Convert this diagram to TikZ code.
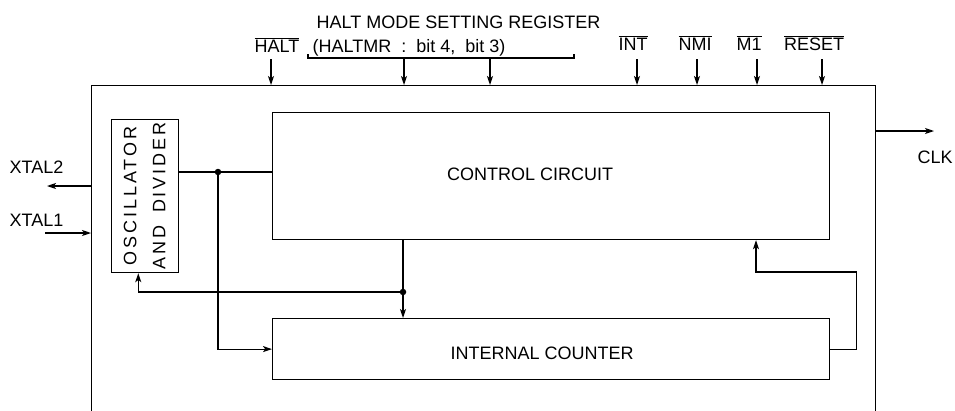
\documentclass[tikz,border=0pt]{standalone}
\usepackage{fontspec}
\usepackage{graphicx}
\setmainfont{Liberation Sans}
\usetikzlibrary{arrows.meta,calc}
\newcommand\ovl[1]{\ensuremath{\overline{\mbox{#1}}}}
\begin{document}
\begin{tikzpicture}[x=1pt,y=-1pt,line width=1.2pt,
  every node/.style={font=\fontsize{18}{22}\selectfont},
  blk/.style={draw,rectangle,inner sep=0pt,anchor=north west},
  arr/.style={-{Stealth[length=9pt,width=6pt,inset=2.2pt]}},
  lbl/.style={inner sep=0pt,anchor=base},
  jdot/.style={circle,fill,inner sep=0pt,minimum size=6.5pt}]
\useasboundingbox (0,0) rectangle (955,410);
\begin{scope}
  \clip (0,0) rectangle (955,410);
  \node[blk,minimum width=784pt,minimum height=340pt] (chip) at (91,85) {};
\end{scope}
% blocks
\node[blk,minimum width=67pt,minimum height=153pt,
      font=\fontsize{18}{29}\selectfont\addfontfeatures{LetterSpace=16}] (osc) at (111,119)
  {\rotatebox{90}{\begin{tabular}{@{}c@{}}OSCILLATOR\\AND\hspace{5pt} DIVIDER\end{tabular}}};
\node[blk,minimum width=557pt,minimum height=127pt] (ctrl) at (272,112) {};
\node[blk,minimum width=557pt,minimum height=61pt] (cnt) at (272,318) {};
\node (tctrl) at ($(ctrl.center)+(-21,-2)$) {CONTROL CIRCUIT};
\node (tcnt) at ($(cnt.center)+(-9,4)$) {INTERNAL COUNTER};
% internal connections
\coordinate (j1) at (218,172);
\coordinate (j2) at (403,292);
\draw (osc.east |- j1) -- (ctrl.west |- j1);
\draw[arr] (j1) |- (cnt.west);
\draw[arr] (ctrl.south -| j2) -- (cnt.north -| j2);
\draw[arr] (j2) -| ($(osc.south west)!0.4!(osc.south east)$);
\node[jdot] (d1) at (j1) {};
\node[jdot] (d2) at (j2) {};
\coordinate (fb) at (756,272);
\draw[arr] (cnt.east) -- ++(26,0) |- (fb) -- (ctrl.south -| fb);
% left / right pins
\coordinate (x2) at (47,186);
\draw[arr] (x2 -| chip.west) -- (x2);
\node[lbl,anchor=base west] (lx2) at (9,173) {XTAL2};
\coordinate (x1) at (45,233);
\draw[arr] (x1) -- (x1 -| chip.west);
\node[lbl,anchor=base west] (lx1) at (9,226) {XTAL1};
\coordinate (ck) at (934,131);
\draw[arr] (ck -| chip.east) -- (ck);
\node[lbl,anchor=base west] (lclk) at (917,163) {CLK};
% top pins
\node[lbl] (lhalt) at (277,52) {\ovl{HALT}};
\coordinate (ahalt) at (271,59);
\draw[arr] (ahalt) -- (ahalt |- chip.north);
\foreach \n/\ax/\lx/\t in {int/637/633/INT, nmi/697/695/NMI, m1/757/749/M1, rst/822/814/RESET}{
  \node[lbl] (l\n) at (\lx,50) {\ovl{\t}};
  \coordinate (a\n) at (\ax,59);
  \draw[arr] (a\n) -- (a\n |- chip.north);
}
% halt mode register
\node[lbl,anchor=base west] (hmsr) at (316,28) {HALT MODE SETTING REGISTER};
\node[lbl,anchor=base west] (hmr) at (312,52) {(HALTMR\ \ :\ \ bit\ 4,\ \ bit\ 3)};
\coordinate (brl) at (308,58);
\coordinate (brr) at (574,58);
\draw (brl) ++(0,-4) -- (brl) -- (brr) -- ++(0,-4);
\coordinate (b1) at (404,58);
\coordinate (b2) at (490,58);
\draw[arr] (b1) -- (b1 |- chip.north);
\draw[arr] (b2) -- (b2 |- chip.north);
\end{tikzpicture}
\end{document}
